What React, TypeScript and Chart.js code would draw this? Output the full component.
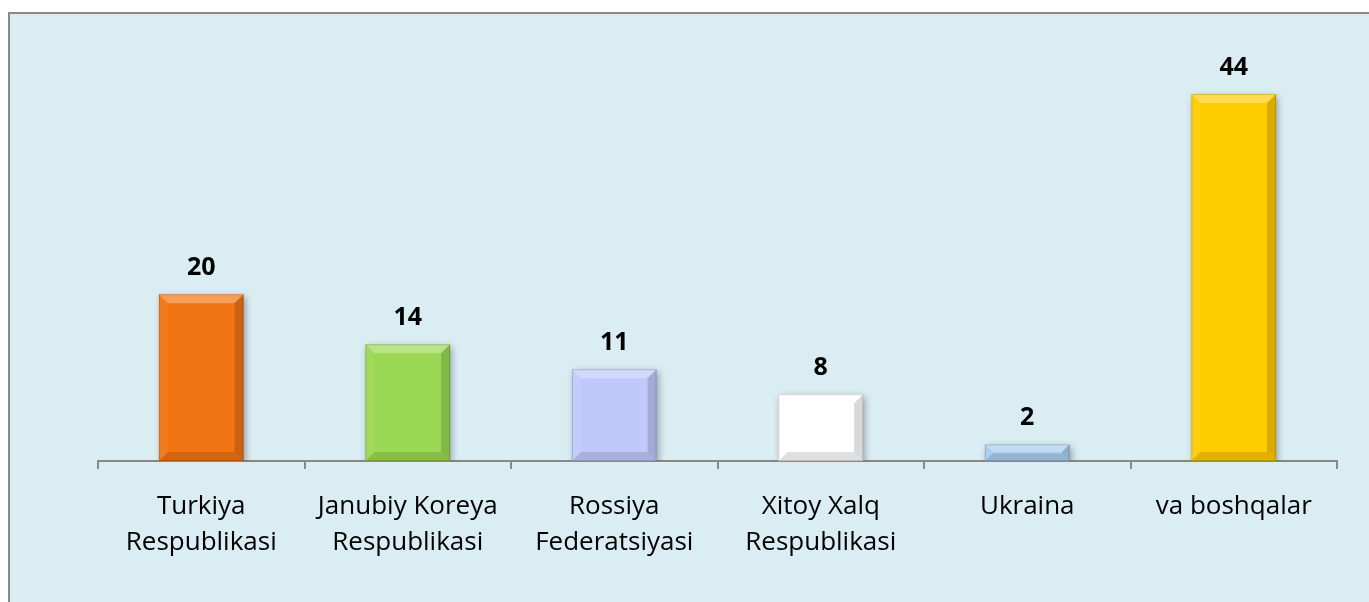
import React, { useEffect, useRef } from "react";
import { Chart, registerables } from "chart.js";

Chart.register(...registerables);

const categories: string[][] = [
  ["Turkiya", "Respublikasi"],
  ["Janubiy Koreya", "Respublikasi"],
  ["Rossiya", "Federatsiyasi"],
  ["Xitoy Xalq", "Respublikasi"],
  ["Ukraina"],
  ["va boshqalar"],
];
const values: number[] = [20, 14, 11, 8, 2, 44];
const barColors: string[] = ["#F07412", "#9BD853", "#C0C9FB", "#FFFFFF", "#A8CDEE", "#FFCC00"];

const FONT = "'Open Sans', 'Noto Sans', sans-serif";

const bgPlugin = {
  id: "bgPlugin",
  beforeDraw(chart: any) {
    const ctx = chart.ctx;
    ctx.save();
    ctx.fillStyle = "#DAEDF3";
    ctx.fillRect(9, 13, chart.width - 9, chart.height - 13);
    ctx.strokeStyle = "#888888";
    ctx.lineWidth = 2;
    ctx.beginPath();
    ctx.moveTo(9, chart.height + 2);
    ctx.lineTo(9, 13);
    ctx.lineTo(chart.width + 2, 13);
    ctx.stroke();
    ctx.restore();
  },
  beforeDatasetsDraw(chart: any) {
    const ctx = chart.ctx;
    ctx.save();
    ctx.shadowColor = "rgba(0,0,0,0.35)";
    ctx.shadowBlur = 7;
    ctx.shadowOffsetX = 2;
    ctx.shadowOffsetY = 3;
  },
  afterDatasetsDraw(chart: any) {
    const ctx = chart.ctx;
    ctx.restore();
    const meta = chart.getDatasetMeta(0);
    meta.data.forEach((bar: any, i: number) => {
      const w = bar.width;
      const l = bar.x - w / 2;
      const r = bar.x + w / 2;
      const t = bar.y;
      const bot = bar.base;
      const h = bot - t;
      const b = Math.min(9, h / 2.2);
      const poly = (pts: number[][], fill: string) => {
        ctx.beginPath();
        ctx.moveTo(pts[0][0], pts[0][1]);
        for (let k = 1; k < pts.length; k++) ctx.lineTo(pts[k][0], pts[k][1]);
        ctx.closePath();
        ctx.fillStyle = fill;
        ctx.fill();
      };
      ctx.save();
      poly([[l, t], [r, t], [r - b, t + b], [l + b, t + b]], "rgba(255,255,255,0.3)");
      poly([[r, t], [r, bot], [r - b, bot - b], [r - b, t + b]], "rgba(0,0,0,0.15)");
      poly([[l, bot], [r, bot], [r - b, bot - b], [l + b, bot - b]], "rgba(0,0,0,0.12)");
      poly([[l, t], [l + b, t + b], [l + b, bot - b], [l, bot]], "rgba(255,255,255,0.06)");
      ctx.strokeStyle = "rgba(0,0,0,0.15)";
      ctx.lineWidth = 1;
      ctx.strokeRect(l + 0.5, t + 0.5, w - 1, h - 1);
      ctx.restore();

      ctx.save();
      ctx.fillStyle = "#000000";
      ctx.font = `bold 25px ${FONT}`;
      ctx.textAlign = "center";
      ctx.textBaseline = "middle";
      ctx.fillText(String(values[i]), bar.x, t - 26);
      ctx.restore();
    });
  },
};

export default function App() {
  const ref = useRef<HTMLCanvasElement>(null);
  useEffect(() => {
    if (!ref.current) return;
    const chart = new Chart(ref.current, {
      type: "bar",
      data: {
        labels: categories,
        datasets: [
          {
            data: values,
            backgroundColor: barColors,
            borderWidth: 0,
            categoryPercentage: 1,
            barPercentage: 0.41,
          },
        ],
      },
      options: {
        animation: false,
        responsive: false,
        maintainAspectRatio: false,
        layout: { padding: { left: 98, right: 32, top: 44, bottom: 0 } },
        plugins: { legend: { display: false }, tooltip: { enabled: false } },
        scales: {
          x: {
            afterFit: (s: any) => {
              s.height = 141;
            },
            grid: {
              display: true,
              drawOnChartArea: false,
              drawTicks: true,
              tickLength: 8,
              color: "#888888",
              lineWidth: 2,
              offset: true,
            },
            border: { display: true, color: "#888888", width: 2 },
            ticks: {
              color: "#000000",
              font: { family: FONT, size: 26, lineHeight: 1.385 },
              padding: 20,
              maxRotation: 0,
              autoSkip: false,
            },
          },
          y: {
            display: false,
            min: 0,
            max: 50,
          },
        },
      },
      plugins: [bgPlugin],
    });
    return () => chart.destroy();
  }, []);
  return (
    <div style={{ position: "fixed", left: 0, top: 0, width: 1369, height: 602 }}>
      <canvas ref={ref} width={1369} height={602} style={{ width: 1369, height: 602 }} />
    </div>
  );
}
